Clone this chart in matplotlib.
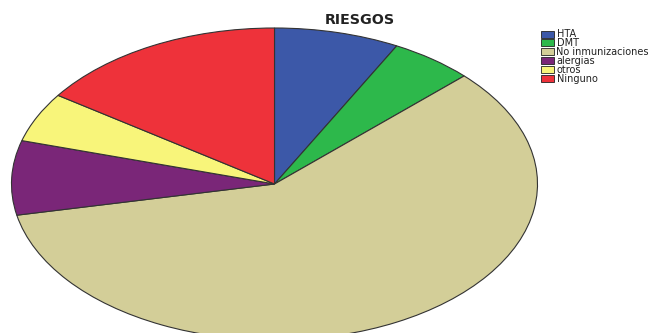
import matplotlib
matplotlib.use("Agg")
import matplotlib.pyplot as plt
from matplotlib.patches import Patch

categories = ["HTA", "DMT", "No inmunizaciones", "alergias", "otros", "Ninguno"]
values = [15, 10, 115, 15, 10, 30]
colors = ["#3C58A8", "#2DB84B", "#D3CE98", "#7A2678", "#F8F57A", "#EE323A"]

W, H = 660, 333
fig = plt.figure(figsize=(W / 100, H / 100), dpi=100)

# pie axes placed in pixel coords
cx, cy, rx, ry = 274.5, 184.0, 263.0, 156.0
ax = fig.add_axes([(cx - rx) / W, (H - cy - ry) / H, 2 * rx / W, 2 * ry / H])
ax.pie(values, colors=colors, startangle=90, counterclock=False, radius=1,
       wedgeprops=dict(edgecolor="#333333", linewidth=0.8))
ax.set_aspect("auto")
ax.set_xlim(-1, 1)
ax.set_ylim(-1, 1)
ax.axis("off")

fig.text(360 / W, 1 - 19.5 / H, "RIESGOS", ha="center", va="center",
         fontsize=10.3, fontweight="bold", family="DejaVu Sans", color="#222222")

handles = [Patch(facecolor=c, edgecolor="#222222", linewidth=0.6) for c in colors]
leg = fig.legend(handles, categories, loc="upper left",
                 bbox_to_anchor=(539 / W, 1 - 27.5 / H), frameon=False,
                 handlelength=1.3, handleheight=0.72,
                 handletextpad=0.3, labelspacing=-0.12, borderaxespad=0,
                 borderpad=0.2, prop={"family": "DejaVu Sans", "size": 7})
for t in leg.get_texts():
    t.set_color("#222222")

fig.savefig("out.png", dpi=100)
